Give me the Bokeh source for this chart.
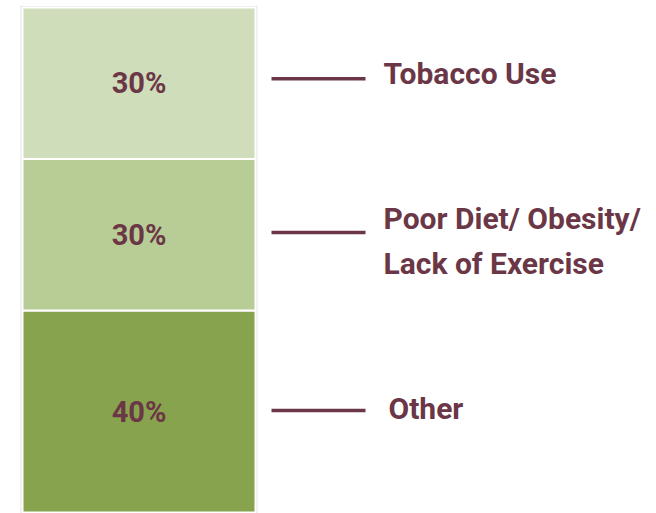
from bokeh.plotting import figure
from bokeh.models import ColumnDataSource, Range1d
from bokeh.core.properties import value
from bokeh.embed import file_html
from bokeh.resources import INLINE

# ---- data ----
categories = ["Other", "Poor Diet/ Obesity/\nLack of Exercise", "Tobacco Use"]
shares = [40, 30, 30]
pct_labels = ["40%", "30%", "30%"]
colors = ["#87a34e", "#b8cd96", "#cfddbb"]

# ---- layout / style ----
W, H = 656, 513
BAR_LEFT, BAR_RIGHT = 22, 255
LINE_X0, LINE_X1 = 271, 365
LABEL_X = 383
PX_PER_UNIT = 5.05
BAR_TOP_PX = 7
Y_TOP = 100 + BAR_TOP_PX / PX_PER_UNIT
TEXT_COLOR = "#6b3746"
FONT = "Roboto"

bottoms, tops = [], []
acc = 0
for s in shares:
    bottoms.append(acc)
    acc += s
    tops.append(acc)
mids = [(b + t) / 2 for b, t in zip(bottoms, tops)]

src = ColumnDataSource(dict(
    bottom=bottoms, top=tops, mid=mids, color=colors, pct=pct_labels,
    cat=categories,
    line_y=[m + d for m, d in zip(mids, [0.2, 0.45, 0.9])],
    lx=[LABEL_X + d for d in [5, 0, 0]],
    ly_off=[-2, 8.5, -5],
))

p = figure(width=W, height=H, output_backend="svg", toolbar_location=None,
           x_range=Range1d(0, W), y_range=Range1d(Y_TOP - H / PX_PER_UNIT, Y_TOP),
           min_border=0, outline_line_color=None)
p.axis.visible = False
p.grid.visible = False
p.background_fill_color = "white"
p.border_fill_color = "white"

# faint shadow around bar
p.quad(left=BAR_LEFT - 2, right=BAR_RIGHT + 2, bottom=-1, top=100 + 0.3,
       fill_color="#e4e4e4", line_color=None)
p.quad(left=BAR_LEFT, right=BAR_RIGHT, bottom="bottom", top="top", source=src,
       fill_color="color", line_color="white", line_width=2)

p.text(x=(BAR_LEFT + BAR_RIGHT) / 2, y="mid", text="pct", source=src,
       text_align="center", text_baseline="middle",
       text_font=value(FONT), text_font_style="bold", text_font_size="29px",
       text_color=TEXT_COLOR)

p.segment(x0=LINE_X0, x1=LINE_X1, y0="line_y", y1="line_y", source=src,
          line_color=TEXT_COLOR, line_width=3.5)

p.text(x="lx", y="line_y", y_offset="ly_off", text="cat", source=src,
       text_align="left", text_baseline="middle", text_line_height=1.28,
       text_font=value(FONT), text_font_style="bold", text_font_size="30px",
       text_color=TEXT_COLOR)

open("out.html", "w").write(file_html(p, INLINE))
